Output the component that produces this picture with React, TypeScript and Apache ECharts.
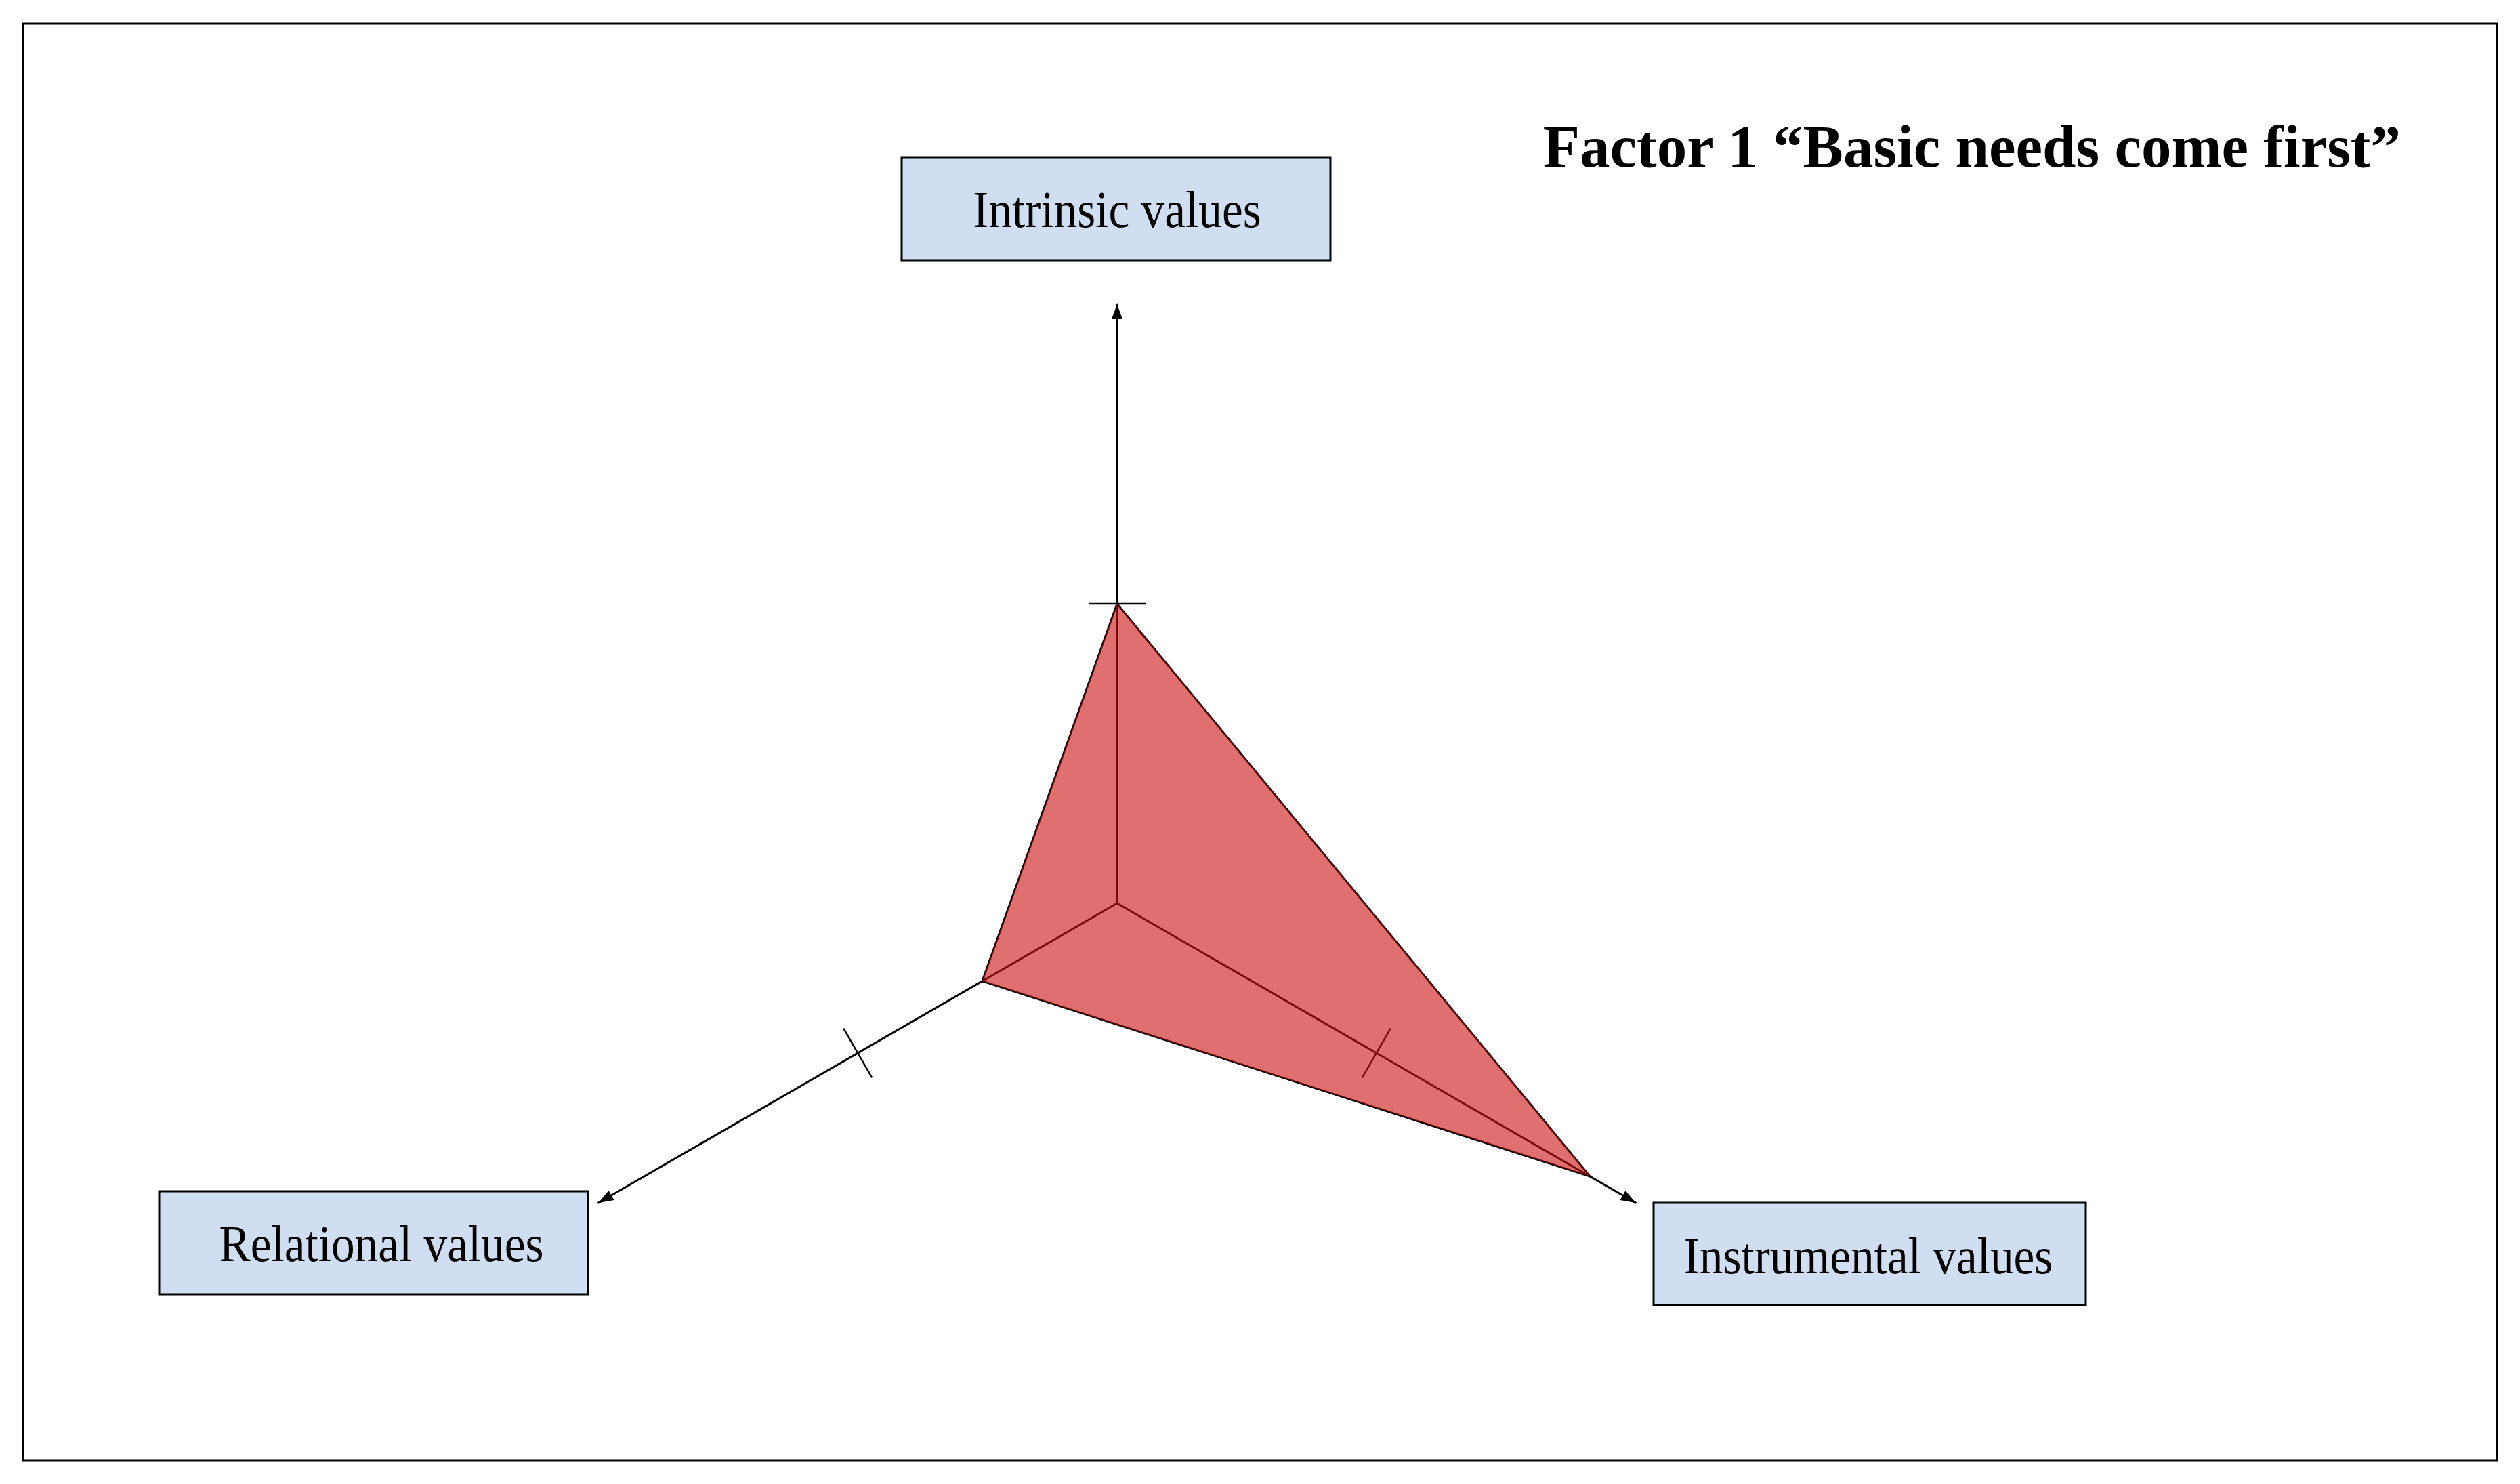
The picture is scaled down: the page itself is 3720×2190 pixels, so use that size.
import React, { useEffect, useRef } from 'react';
import * as echarts from 'echarts';

// ---- data ----
const categories = ['Intrinsic values', 'Relational values', 'Instrumental values'];
const factorScores = [0.5, 0.26, 0.912];
const axisMin = 0;
const axisMax = 1;
const tickValues = [0.5];
const titleText = 'Factor 1 \u201CBasic needs come first\u201D';

// ---- layout (pixels) ----
const labelBoxes = [
  { x: 1331, y: 232, w: 633, h: 152, tx: 1649, ty: 309 },
  { x: 235, y: 1758, w: 633, h: 152, tx: 563, ty: 1835 },
  { x: 2441, y: 1775, w: 638, h: 151, tx: 2758, ty: 1853 },
];

export default function App() {
  const ref = useRef<HTMLDivElement>(null);

  useEffect(() => {
    document.body.style.margin = '0';
    const chart = echarts.init(ref.current as HTMLDivElement, null, { renderer: 'svg' });
    chart.setOption({
      animation: false,
      backgroundColor: '#ffffff',
      radar: {
        center: [1649, 1333],
        radius: 884,
        startAngle: 90,
        shape: 'polygon',
        splitNumber: 2,
        indicator: categories.map((name) => ({ name, min: axisMin, max: axisMax })),
        axisName: { show: false },
        axisLine: {
          show: true,
          lineStyle: { color: '#000000', width: 3 },
          symbol: ['none', 'triangle'],
          symbolSize: [16, 22],
          symbolOffset: [0, -11],
        },
        axisTick: { show: false },
        axisLabel: { show: false },
        splitLine: { show: false },
        splitArea: { show: false },
      },
      series: [
        {
          type: 'radar',
          z: 2,
          symbol: 'none',
          lineStyle: { color: '#000000', width: 3 },
          areaStyle: { color: '#CC1111', opacity: 0.6 },
          data: [{ value: factorScores, name: 'Factor 1' }],
        },
      ],
    });

    const radarCS = (chart as any).getModel().getComponent('radar', 0).coordinateSystem;
    const cx = radarCS.cx;
    const cy = radarCS.cy;
    const tickHalf = 42;
    const elements: any[] = [];

    categories.forEach((_, i) => {
      tickValues.forEach((v) => {
        const p = radarCS.dataToPoint(v, i);
        const dx = p[0] - cx;
        const dy = p[1] - cy;
        const len = Math.hypot(dx, dy) || 1;
        const nx = -dy / len;
        const ny = dx / len;
        elements.push({
          type: 'line',
          z: 1,
          silent: true,
          shape: {
            x1: p[0] - nx * tickHalf,
            y1: p[1] - ny * tickHalf,
            x2: p[0] + nx * tickHalf,
            y2: p[1] + ny * tickHalf,
          },
          style: { stroke: '#000000', lineWidth: 2.5 },
        });
      });
    });

    // outer frame
    elements.push({
      type: 'rect',
      z: 0,
      silent: true,
      shape: { x: 34, y: 35, width: 3652, height: 2120 },
      style: { fill: 'none', stroke: '#000000', lineWidth: 3 },
    });

    // label boxes
    categories.forEach((name, i) => {
      const b = labelBoxes[i];
      elements.push({
        type: 'rect',
        z: 5,
        silent: true,
        shape: { x: b.x, y: b.y, width: b.w, height: b.h },
        style: { fill: '#CFDFF1', stroke: '#000000', lineWidth: 3 },
      });
      elements.push({
        type: 'text',
        z: 6,
        silent: true,
        x: b.tx,
        y: b.ty,
        scaleX: 0.9,
        style: {
          text: name,
          fontFamily: '"Liberation Serif", "Times New Roman", serif',
          fontSize: 77,
          fill: '#000000',
          align: 'center',
          verticalAlign: 'middle',
        },
      });
    });

    // title
    elements.push({
      type: 'text',
      z: 6,
      silent: true,
      x: 3544,
      y: 216,
      style: {
        text: titleText,
        fontFamily: '"Liberation Serif", "Times New Roman", serif',
        fontSize: 89,
        fontWeight: 'bold',
        fill: '#000000',
        align: 'right',
        verticalAlign: 'middle',
      },
    });

    chart.setOption({ graphic: { elements } });

    return () => {
      chart.dispose();
    };
  }, []);

  return <div ref={ref} style={{ width: 3720, height: 2190 }} />;
}
